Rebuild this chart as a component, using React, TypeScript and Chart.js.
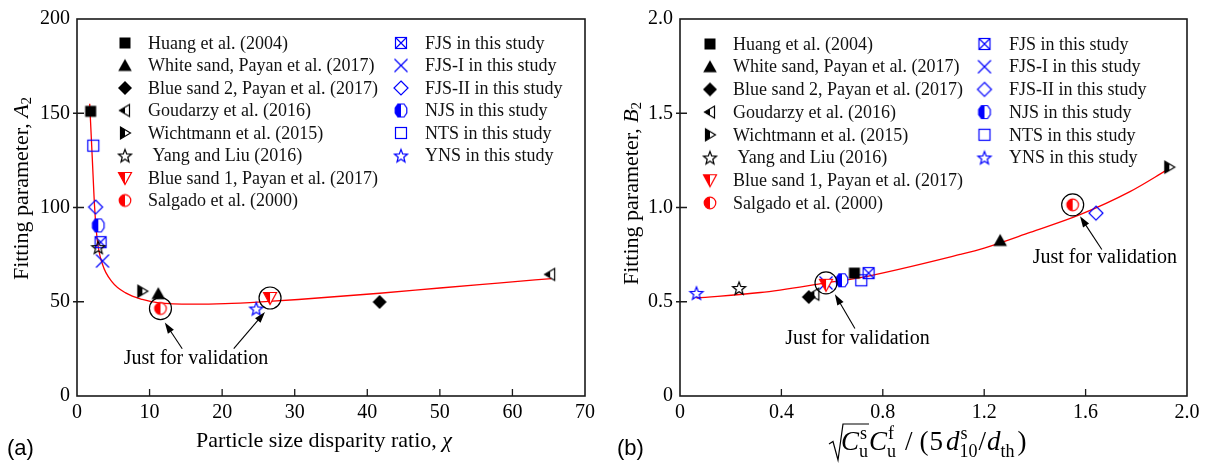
import React, { useEffect, useRef } from "react";
import { Chart, registerables } from "chart.js";
Chart.register(...registerables);

const SERIF = "'Liberation Serif', 'Times New Roman', serif";
const SANS = "'Liberation Sans', Arial, sans-serif";

// ---------- data ----------
const seriesLabels = [
  "Huang et al. (2004)",
  "White sand, Payan et al. (2017)",
  "Blue sand 2, Payan et al. (2017)",
  "Goudarzy et al. (2016)",
  "Wichtmann et al. (2015)",
  " Yang and Liu (2016)",
  "Blue sand 1, Payan et al. (2017)",
  "Salgado et al. (2000)",
  "FJS in this study",
  "FJS-I in this study",
  "FJS-II in this study",
  "NJS in this study",
  "NTS in this study",
  "YNS in this study",
];
// panel (a): particle size disparity ratio chi vs A2
const chiValues = [1.88, 11.2, 41.7, 65.2, 9.0, 2.93, 26.6, 11.5, 3.25, 3.52, 2.56, 2.93, 2.24, 24.7];
const a2Values = [151, 54.3, 49.9, 64.5, 55.6, 79, 52, 46.4, 81.6, 71.6, 100.2, 90.5, 132.8, 46.4];
// panel (b): grading index vs B2
const gradingValues = [0.688, 1.263, 0.508, 0.53, 1.93, 0.233, 0.576, 1.549, 0.744, 0.576, 1.641, 0.639, 0.715, 0.065];
const b2Values = [0.652, 0.825, 0.525, 0.54, 1.214, 0.573, 0.59, 1.014, 0.652, 0.6, 0.97, 0.614, 0.614, 0.547];

// fitted curves
const fitChi = [1.75, 2.1, 2.43, 2.8, 3.5, 4.86, 6.7, 9.0, 11.3, 15.9, 20.4, 26.4, 30.5, 41.7, 50, 58, 65.4];
const fitA2 = [155, 126.6, 100, 82.5, 70, 60.4, 54.7, 51.2, 49.4, 48.7, 49.0, 50.2, 51.2, 54.5, 57.3, 59.9, 62.3];
const fitGrading = [0.065, 0.317, 0.576, 0.711, 1.105, 1.2, 1.381, 1.578, 1.775, 1.92];
const fitB2 = [0.52, 0.549, 0.6, 0.628, 0.751, 0.785, 0.868, 0.962, 1.084, 1.198];

// annotations (data coordinates)
const noteText = "Just for validation";
const aNotes = [[16.4, 19.5]];
const aArrows = [
  [14.5, 25.1, 12.1, 39.0],
  [21.6, 25.1, 25.9, 44.5],
];
const aCircles = [[11.5, 46.4], [26.6, 52]];
const bNotes = [[0.70, 0.305], [1.676, 0.733]];
const bArrows = [
  [0.69, 0.358, 0.611, 0.54],
  [1.664, 0.777, 1.578, 0.953],
];
const bCircles = [[0.576, 0.6], [1.549, 1.014]];

// ---------- styles ----------
const markerKinds = [
  "squareFilled", "triangleFilled", "diamondFilled", "triLeftHalf", "triRightHalf", "starOpen",
  "triDownHalf", "circleHalf", "squareCross", "cross", "diamondOpen", "hexHalf", "squareOpen", "starOpen",
];
const markerColors = [
  "#000", "#000", "#000", "#000", "#000", "#000", "#f00", "#f00",
  "#0000ff", "#0000ff", "#0000ff", "#0000ff", "#0000ff", "#0000ff",
];

function makeMarker(kind: string, color: string): HTMLCanvasElement {
  const S = 18;
  const c = document.createElement("canvas");
  c.width = S;
  c.height = S;
  const g = c.getContext("2d")!;
  const cx = S / 2, cy = S / 2;
  g.lineWidth = 1.2;
  g.strokeStyle = color;
  g.fillStyle = color;
  const poly = (pts: number[][]) => {
    g.beginPath();
    pts.forEach((p, i) => (i ? g.lineTo(cx + p[0], cy + p[1]) : g.moveTo(cx + p[0], cy + p[1])));
    g.closePath();
  };
  const halfFill = (build: () => void) => {
    build();
    g.fillStyle = "#fff";
    g.fill();
    g.save();
    build();
    g.clip();
    g.fillStyle = color;
    g.fillRect(0, 0, cx, S);
    g.restore();
    build();
    g.stroke();
  };
  const star = () => {
    g.beginPath();
    for (let i = 0; i < 10; i++) {
      const r = i % 2 ? 2.9 : 6.8;
      const a = -Math.PI / 2 + (i * Math.PI) / 5;
      const x = cx + r * Math.cos(a), y = cy + 0.8 + r * Math.sin(a);
      if (i) g.lineTo(x, y);
      else g.moveTo(x, y);
    }
    g.closePath();
  };
  switch (kind) {
    case "squareFilled":
      g.fillRect(cx - 5.5, cy - 5.5, 11, 11);
      break;
    case "triangleFilled":
      poly([[0, -6.5], [6.8, 5.5], [-6.8, 5.5]]);
      g.fill();
      break;
    case "diamondFilled":
      poly([[0, -7], [7, 0], [0, 7], [-7, 0]]);
      g.fill();
      break;
    case "triLeftHalf":
      halfFill(() => poly([[-5.5, 0], [4.5, -6], [4.5, 6]]));
      break;
    case "triRightHalf":
      halfFill(() => poly([[5.5, 0], [-4.5, -6], [-4.5, 6]]));
      break;
    case "starOpen":
      star();
      g.stroke();
      break;
    case "triDownHalf":
      halfFill(() => poly([[-6.5, -5.5], [6.5, -5.5], [0, 6.5]]));
      break;
    case "circleHalf":
      halfFill(() => {
        g.beginPath();
        g.arc(cx, cy, 5.8, 0, Math.PI * 2);
      });
      break;
    case "squareCross":
      g.strokeRect(cx - 5.5, cy - 5.5, 11, 11);
      g.beginPath();
      g.moveTo(cx - 5.5, cy - 5.5);
      g.lineTo(cx + 5.5, cy + 5.5);
      g.moveTo(cx + 5.5, cy - 5.5);
      g.lineTo(cx - 5.5, cy + 5.5);
      g.stroke();
      break;
    case "cross":
      g.beginPath();
      g.moveTo(cx - 6.5, cy - 6.5);
      g.lineTo(cx + 6.5, cy + 6.5);
      g.moveTo(cx + 6.5, cy - 6.5);
      g.lineTo(cx - 6.5, cy + 6.5);
      g.stroke();
      break;
    case "diamondOpen":
      poly([[0, -7], [7, 0], [0, 7], [-7, 0]]);
      g.stroke();
      break;
    case "hexHalf":
      halfFill(() => poly([[-3, -6.5], [3, -6.5], [5.8, -2.5], [5.8, 2.5], [3, 6.5], [-3, 6.5], [-5.8, 2.5], [-5.8, -2.5]]));
      break;
    case "squareOpen":
      g.strokeRect(cx - 5.5, cy - 5.5, 11, 11);
      break;
  }
  return c;
}

function drawRichCentered(
  g: CanvasRenderingContext2D,
  parts: { t: string; size: number; italic?: boolean; dy?: number }[],
  cx: number,
  baseY: number
) {
  let w = 0;
  parts.forEach((p) => {
    g.font = `${p.italic ? "italic " : ""}${p.size}px ${SERIF}`;
    w += g.measureText(p.t).width;
  });
  let x = cx - w / 2;
  g.textAlign = "left";
  g.textBaseline = "alphabetic";
  parts.forEach((p) => {
    g.font = `${p.italic ? "italic " : ""}${p.size}px ${SERIF}`;
    g.fillText(p.t, x, baseY + (p.dy || 0));
    x += g.measureText(p.t).width;
  });
}

function drawArrow(g: CanvasRenderingContext2D, x1: number, y1: number, x2: number, y2: number) {
  const a = Math.atan2(y2 - y1, x2 - x1);
  const L = 11, W = 3.6;
  g.beginPath();
  g.moveTo(x1, y1);
  g.lineTo(x2 - (L - 2) * Math.cos(a), y2 - (L - 2) * Math.sin(a));
  g.stroke();
  g.beginPath();
  g.moveTo(x2, y2);
  g.lineTo(x2 - L * Math.cos(a) + W * Math.sin(a), y2 - L * Math.sin(a) - W * Math.cos(a));
  g.lineTo(x2 - L * Math.cos(a) - W * Math.sin(a), y2 - L * Math.sin(a) + W * Math.cos(a));
  g.closePath();
  g.fill();
}

// math title of panel (b):  sqrt(Cu^s) Cu^f / (5 d10^s / dth)
type Tok = { main?: string; italic?: boolean; sup?: string; sub?: string; gap: number; overEnd?: boolean };
const bTitleTokens: Tok[] = [
  { main: "C", italic: true, sup: "s", sub: "u", gap: 1, overEnd: true },
  { main: "C", italic: true, sup: "f", sub: "u", gap: 9 },
  { main: "/", gap: 7 },
  { main: "(", gap: 1 },
  { main: "5", gap: 3 },
  { main: "d", italic: true, sup: "s", sub: "10", gap: 1 },
  { main: "/", gap: 1 },
  { main: "d", italic: true, sub: "th", gap: 3 },
  { main: ")", gap: 0 },
];

function drawBTitle(g: CanvasRenderingContext2D, x0: number, base: number) {
  const MAIN = 27, SMALL = 18;
  let x = x0;
  let overEnd = x0 + 30;
  g.textAlign = "left";
  g.textBaseline = "alphabetic";
  bTitleTokens.forEach((t) => {
    if (t.main) {
      g.font = `${t.italic ? "italic " : ""}${MAIN}px ${SERIF}`;
      g.fillText(t.main, x, base);
      x += g.measureText(t.main).width;
    }
    let w = 0;
    g.font = `${SMALL}px ${SERIF}`;
    if (t.sup) {
      g.fillText(t.sup, x + 1, base - 11);
      w = Math.max(w, g.measureText(t.sup).width + 1);
    }
    if (t.sub) {
      g.fillText(t.sub, x, base + 7);
      w = Math.max(w, g.measureText(t.sub).width);
    }
    x += w;
    if (t.overEnd) overEnd = x + 1;
    x += t.gap;
  });
  g.strokeStyle = "#000";
  g.lineWidth = 1.2;
  g.beginPath();
  g.moveTo(x0 - 12, base - 6);
  g.lineTo(x0 - 8, base - 8.5);
  g.lineTo(x0 - 3, base + 10);
  g.lineTo(x0 + 2, base - 26);
  g.lineTo(overEnd, base - 26);
  g.stroke();
}

type PanelCfg = {
  width: number;
  xs: number[];
  ys: number[];
  fitX: number[];
  fitY: number[];
  xMin: number; xMax: number; xStep: number;
  yMin: number; yMax: number; yStep: number;
  xFmt: (v: number) => string;
  yFmt: (v: number) => string;
  yAxisWidth: number;
  padRight: number;
  padTop: number;
  legend: { c1m: number; c1t: number; c2m: number; c2t: number; y0: number; dy: number };
  notes: number[][];
  arrows: number[][];
  circles: number[][];
  titles: (g: CanvasRenderingContext2D) => void;
};

function buildChart(canvas: HTMLCanvasElement, cfg: PanelCfg) {
  const markers = markerKinds.map((k, i) => makeMarker(k, markerColors[i]));
  const datasets: any[] = seriesLabels.map((label, i) => ({
    label,
    data: [{ x: cfg.xs[i], y: cfg.ys[i] }],
    pointStyle: markers[i],
    pointRadius: 6,
    showLine: false,
    order: 0,
  }));
  datasets.push({
    label: "fit",
    data: cfg.fitX.map((x, i) => ({ x, y: cfg.fitY[i] })),
    showLine: true,
    borderColor: "#ff0000",
    borderWidth: 1.3,
    pointRadius: 0,
    cubicInterpolationMode: "monotone",
    order: 1,
  });

  const decor = {
    id: "decor",
    afterDatasetsDraw(chart: any) {
      const g: CanvasRenderingContext2D = chart.ctx;
      const xs = chart.scales.x, ys = chart.scales.y;
      const a = chart.chartArea;
      g.save();
      g.strokeStyle = "#000";
      g.lineWidth = 1.2;
      cfg.circles.forEach((c) => {
        g.beginPath();
        g.arc(xs.getPixelForValue(c[0]), ys.getPixelForValue(c[1]), 11, 0, Math.PI * 2);
        g.stroke();
      });
      g.fillStyle = "#000";
      g.lineWidth = 1.1;
      cfg.arrows.forEach((r) => {
        drawArrow(g, xs.getPixelForValue(r[0]), ys.getPixelForValue(r[1]), xs.getPixelForValue(r[2]), ys.getPixelForValue(r[3]));
      });
      g.font = `20px ${SERIF}`;
      g.textAlign = "center";
      g.textBaseline = "middle";
      cfg.notes.forEach((n) => {
        g.fillText(noteText, xs.getPixelForValue(n[0]), ys.getPixelForValue(n[1]));
      });
      g.strokeStyle = "#1a1a1a";
      g.lineWidth = 1.6;
      g.strokeRect(a.left, a.top, a.right - a.left, a.bottom - a.top);
      g.lineWidth = 1.3;
      g.beginPath();
      xs.ticks.forEach((t: any) => {
        const px = xs.getPixelForValue(t.value);
        if (px <= a.left + 1 || px >= a.right - 1) return;
        g.moveTo(px, a.bottom);
        g.lineTo(px, a.bottom - 7);
      });
      ys.ticks.forEach((t: any) => {
        const py = ys.getPixelForValue(t.value);
        if (py <= a.top + 1 || py >= a.bottom - 1) return;
        g.moveTo(a.left - 4, py);
        g.lineTo(a.left + 7, py);
      });
      g.stroke();
      const L = cfg.legend;
      g.font = `18px ${SERIF}`;
      g.textAlign = "left";
      g.textBaseline = "middle";
      g.fillStyle = "#111";
      seriesLabels.forEach((label, i) => {
        const col2 = i >= 8;
        const row = col2 ? i - 8 : i;
        const y = L.y0 + row * L.dy;
        const mx = col2 ? L.c2m : L.c1m;
        const tx = col2 ? L.c2t : L.c1t;
        const m = markers[i];
        g.drawImage(m, mx - m.width / 2, y - m.height / 2);
        g.fillText(label, tx, y + 1);
      });
      cfg.titles(g);
      g.restore();
    },
  };

  return new Chart(canvas, {
    type: "scatter",
    data: { datasets },
    options: {
      responsive: false,
      animation: false,
      devicePixelRatio: 1,
      events: [],
      layout: { padding: { top: cfg.padTop, right: cfg.padRight, left: 0, bottom: 0 } },
      plugins: { legend: { display: false }, tooltip: { enabled: false } },
      scales: {
        x: {
          type: "linear",
          min: cfg.xMin,
          max: cfg.xMax,
          afterFit: (s: any) => {
            s.height = 70;
          },
          grid: { display: false, drawTicks: false },
          border: { display: false },
          ticks: {
            stepSize: cfg.xStep,
            color: "#000",
            font: { family: SERIF, size: 20 },
            padding: 5,
            maxRotation: 0,
            autoSkip: false,
            callback: (v: any) => cfg.xFmt(Number(v)),
          },
        },
        y: {
          type: "linear",
          min: cfg.yMin,
          max: cfg.yMax,
          afterFit: (s: any) => {
            s.width = cfg.yAxisWidth;
          },
          grid: { display: false, drawTicks: false },
          border: { display: false },
          ticks: {
            stepSize: cfg.yStep,
            color: "#000",
            font: { family: SERIF, size: 20 },
            padding: 7,
            autoSkip: false,
            callback: (v: any) => cfg.yFmt(Number(v)),
          },
        },
      },
    },
    plugins: [decor],
  } as any);
}

const leftCfg: PanelCfg = {
  width: 600,
  xs: chiValues,
  ys: a2Values,
  fitX: fitChi,
  fitY: fitA2,
  xMin: 0, xMax: 70, xStep: 10,
  yMin: 0, yMax: 200, yStep: 50,
  xFmt: (v) => String(Math.round(v)),
  yFmt: (v) => String(Math.round(v)),
  yAxisWidth: 77,
  padRight: 14,
  padTop: 16,
  legend: { c1m: 125, c1t: 148, c2m: 401, c2t: 425, y0: 43, dy: 22.5 },
  notes: aNotes,
  arrows: aArrows,
  circles: aCircles,
  titles: (g) => {
    g.fillStyle = "#000";
    drawRichCentered(
      g,
      [
        { t: "Particle size disparity ratio, ", size: 22 },
        { t: "\u03c7", size: 22, italic: true },
      ],
      324,
      447
    );
    g.save();
    g.translate(27.5, 188.5);
    g.rotate(-Math.PI / 2);
    drawRichCentered(
      g,
      [
        { t: "Fitting parameter, ", size: 22 },
        { t: "A", size: 22, italic: true },
        { t: "2", size: 15, dy: 3 },
      ],
      0,
      0
    );
    g.restore();
    g.font = `22px ${SANS}`;
    g.textAlign = "left";
    g.textBaseline = "alphabetic";
    g.fillText("(a)", 7, 455);
  },
};

const rightCfg: PanelCfg = {
  width: 608,
  xs: gradingValues,
  ys: b2Values,
  fitX: fitGrading,
  fitY: fitB2,
  xMin: 0, xMax: 2, xStep: 0.4,
  yMin: 0, yMax: 2, yStep: 0.5,
  xFmt: (v) => (Math.abs(v) < 1e-9 ? "0" : v.toFixed(1)),
  yFmt: (v) => (Math.abs(v) < 1e-9 ? "0" : v.toFixed(1)),
  yAxisWidth: 80,
  padRight: 21,
  padTop: 16,
  legend: { c1m: 110, c1t: 133, c2m: 384.5, c2t: 409, y0: 44, dy: 22.7 },
  notes: bNotes,
  arrows: bArrows,
  circles: bCircles,
  titles: (g) => {
    g.fillStyle = "#000";
    drawBTitle(g, 241, 450);
    g.save();
    g.translate(38, 193.5);
    g.rotate(-Math.PI / 2);
    drawRichCentered(
      g,
      [
        { t: "Fitting parameter, ", size: 22 },
        { t: "B", size: 22, italic: true },
        { t: "2", size: 15, dy: 3 },
      ],
      0,
      0
    );
    g.restore();
    g.font = `22px ${SANS}`;
    g.textAlign = "left";
    g.textBaseline = "alphabetic";
    g.fillText("(b)", 17, 455);
  },
};

function Panel({ cfg }: { cfg: PanelCfg }) {
  const ref = useRef<HTMLCanvasElement>(null);
  useEffect(() => {
    const chart = buildChart(ref.current!, cfg);
    return () => chart.destroy();
  }, []);
  return (
    <canvas
      ref={ref}
      width={cfg.width}
      height={466}
      style={{ display: "block", width: cfg.width, height: 466 }}
    />
  );
}

export default function App() {
  useEffect(() => {
    document.body.style.margin = "0";
  }, []);
  return (
    <div
      style={{
        position: "fixed",
        left: 0,
        top: 0,
        width: 1208,
        height: 466,
        display: "flex",
        background: "#fff",
      }}
    >
      <Panel cfg={leftCfg} />
      <Panel cfg={rightCfg} />
    </div>
  );
}
